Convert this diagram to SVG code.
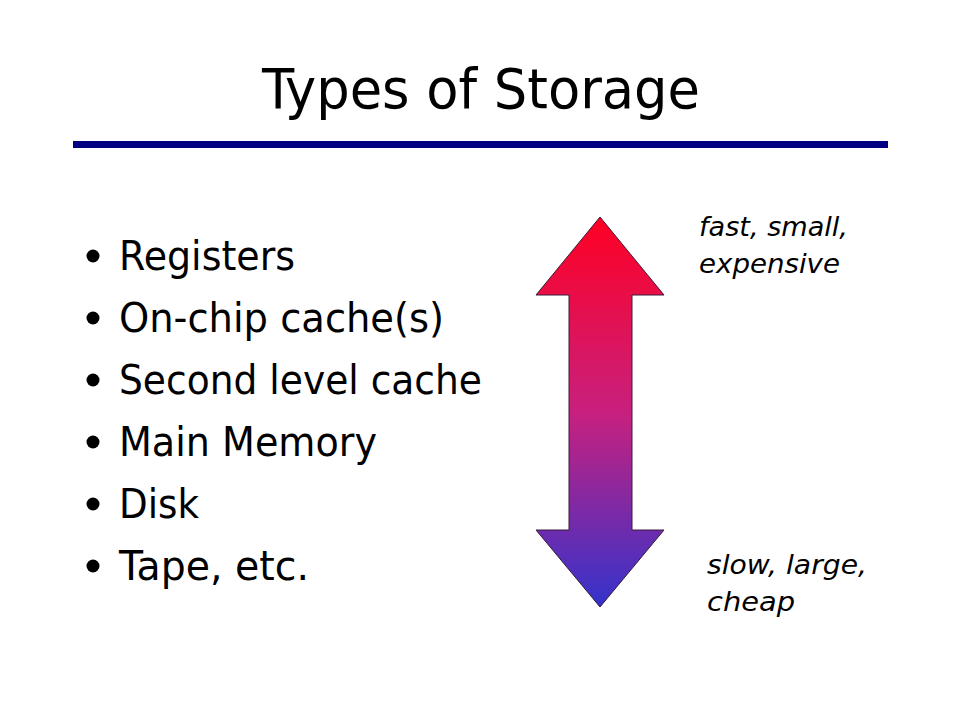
<svg xmlns="http://www.w3.org/2000/svg" width="960" height="720" viewBox="0 0 960 720">
<style>
.title{font-family:"DejaVu Sans Condensed","DejaVu Sans",sans-serif;font-size:56px;fill:#000}
.item{font-family:"DejaVu Sans","Liberation Sans",sans-serif;font-size:40px;fill:#000}
.note{font-family:"DejaVu Sans","Liberation Sans",sans-serif;font-style:italic;font-size:27px;fill:#000}
.bullet{fill:#000}
</style>
<defs>
<linearGradient id="grad" x1="0" y1="0" x2="0" y2="1">
<stop offset="0" stop-color="#FF0022"/>
<stop offset="0.5" stop-color="#C8207E"/>
<stop offset="1" stop-color="#3333CC"/>
</linearGradient>
</defs>
<rect width="960" height="720" fill="#fff"/>
<g id="title">
<text class="title" x="262" y="108" textLength="438" lengthAdjust="spacingAndGlyphs">Types of Storage</text>
<rect x="73" y="141" width="815" height="7" fill="#000080"/>
</g>
<g id="list">
<circle class="bullet" cx="93" cy="256" r="6.5"/>
<text class="item" x="119" y="270" textLength="176" lengthAdjust="spacingAndGlyphs">Registers</text>
<circle class="bullet" cx="93" cy="318" r="6.5"/>
<text class="item" x="119" y="332" textLength="325" lengthAdjust="spacingAndGlyphs">On-chip cache(s)</text>
<circle class="bullet" cx="93" cy="380" r="6.5"/>
<text class="item" x="119" y="394" textLength="363" lengthAdjust="spacingAndGlyphs">Second level cache</text>
<circle class="bullet" cx="93" cy="442" r="6.5"/>
<text class="item" x="119" y="456" textLength="258" lengthAdjust="spacingAndGlyphs">Main Memory</text>
<circle class="bullet" cx="93" cy="504" r="6.5"/>
<text class="item" x="119" y="518" textLength="80" lengthAdjust="spacingAndGlyphs">Disk</text>
<circle class="bullet" cx="93" cy="566" r="6.5"/>
<text class="item" x="119" y="580" textLength="190" lengthAdjust="spacingAndGlyphs">Tape, etc.</text>
</g>
<g id="arrow">
<polygon points="600,217 664,295 632,295 632,530 664,530 600,607 536,530 569,530 569,295 536,295" fill="url(#grad)" stroke="#3a1a3a" stroke-width="1"/>
</g>
<g id="label-top">
<text class="note" x="699" y="236" textLength="149" lengthAdjust="spacingAndGlyphs">fast, small,</text>
<text class="note" x="699" y="273" textLength="141" lengthAdjust="spacingAndGlyphs">expensive</text>
</g>
<g id="label-bottom">
<text class="note" x="707" y="574" textLength="160" lengthAdjust="spacingAndGlyphs">slow, large,</text>
<text class="note" x="707" y="611" textLength="88" lengthAdjust="spacingAndGlyphs">cheap</text>
</g>
</svg>
